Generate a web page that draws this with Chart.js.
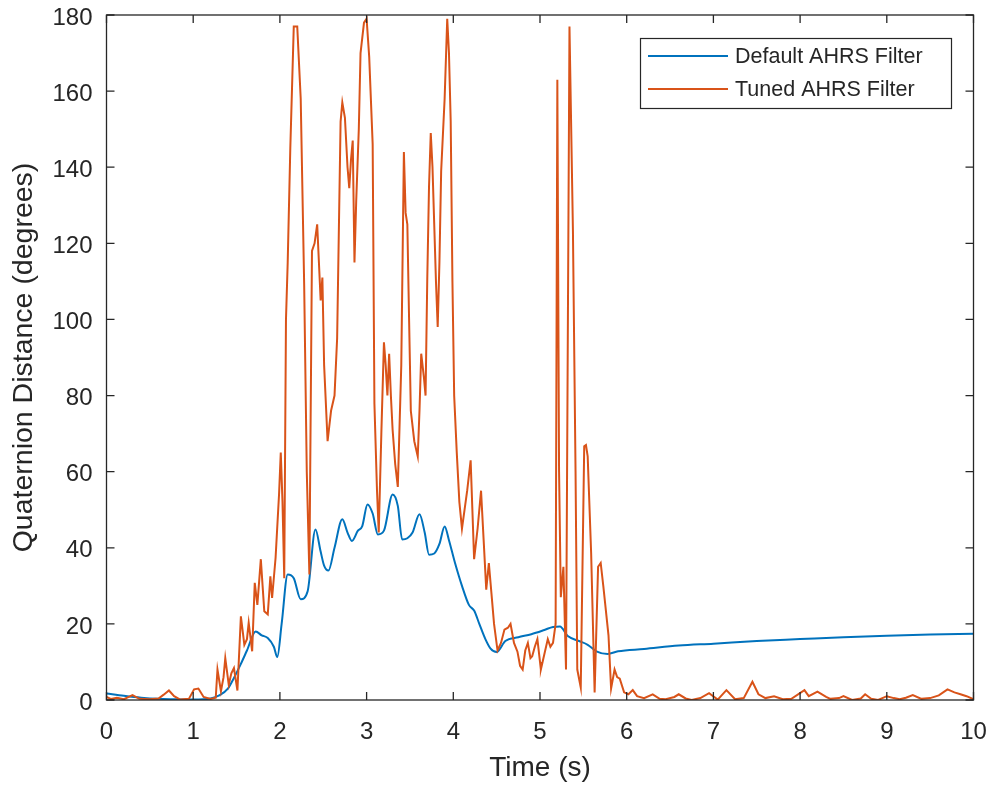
<!DOCTYPE html>
<html>
<head>
<meta charset="utf-8">
<script src="https://cdn.jsdelivr.net/npm/chart.js@4/dist/chart.umd.min.js"></script>
<style>
	html, body { margin: 0; padding: 0; background: #fff; }
	#wrap { width: 992px; height: 787px; position: relative; }
</style>
</head>
<body>
<div id="wrap"><canvas id="chart"></canvas></div>
<script>
// time (s) and quaternion distance (degrees)
const defaultTime = [0, 0.2, 0.4, 0.6, 0.8, 1.0, 1.2, 1.3, 1.4, 1.47,
	1.55, 1.62, 1.72, 1.79, 1.86, 1.93, 1.97, 2.02, 2.09, 2.16,
	2.24, 2.32, 2.41, 2.47, 2.51, 2.56, 2.63, 2.72, 2.78, 2.83,
	2.9, 2.95, 3.01, 3.07, 3.13, 3.2, 3.3, 3.36, 3.41, 3.47,
	3.53, 3.61, 3.67, 3.72, 3.78, 3.84, 3.9, 3.95, 4.02, 4.1,
	4.18, 4.24, 4.3, 4.37, 4.43, 4.5, 4.6, 4.75, 4.9, 5.05,
	5.15, 5.23, 5.32, 5.45, 5.55, 5.65, 5.78, 5.9, 6.2, 6.6,
	7.0, 7.5, 8.0, 8.5, 9.0, 9.5, 10];
const defaultDist = [1.7, 1.1, 0.6, 0.3, 0.2, 0.1, 0.4, 1.2, 3.0, 5.8,
	9.5, 13, 18, 17, 16.3, 14, 11.3, 20, 33, 32,
	26.5, 28.6, 44.8, 39, 35.3, 34, 40, 47.5, 44, 41.8,
	44.5, 45.7, 51.4, 49, 43.5, 44.5, 54, 51, 42.2, 42.5,
	44, 48.8, 44, 38.2, 38.5, 41, 45.6, 42, 36, 30,
	25, 23.5, 20, 16, 13.5, 12.6, 15.5, 16.5, 17.3, 18.4,
	19.2, 19.3, 16.8, 15.5, 14.5, 12.8, 12.1, 12.8, 13.4, 14.3,
	14.8, 15.5, 16, 16.5, 16.9, 17.2, 17.4];

const tunedTime = [0, 0.05, 0.12, 0.2, 0.3, 0.38, 0.5, 0.6, 0.66, 0.72,
	0.78, 0.85, 0.95, 1.01, 1.06, 1.12, 1.2, 1.26, 1.28, 1.32,
	1.35, 1.37, 1.41, 1.44, 1.47, 1.51, 1.55, 1.59, 1.62, 1.64,
	1.68, 1.71, 1.74, 1.78, 1.82, 1.86, 1.89, 1.91, 1.95, 1.99,
	2.01, 2.03, 2.05, 2.07, 2.09, 2.12, 2.16, 2.2, 2.24, 2.28,
	2.31, 2.34, 2.37, 2.4, 2.43, 2.47, 2.49, 2.51, 2.55, 2.57,
	2.59, 2.63, 2.66, 2.7, 2.72, 2.75, 2.78, 2.8, 2.82, 2.84,
	2.86, 2.88, 2.91, 2.93, 2.97, 3.0, 3.03, 3.07, 3.09, 3.12,
	3.14, 3.17, 3.2, 3.22, 3.24, 3.26, 3.28, 3.3, 3.33, 3.36,
	3.4, 3.43, 3.45, 3.47, 3.49, 3.51, 3.55, 3.59, 3.61, 3.63,
	3.66, 3.68, 3.7, 3.72, 3.74, 3.76, 3.78, 3.8, 3.82, 3.84,
	3.86, 3.9, 3.93, 3.95, 3.97, 3.99, 4.01, 4.04, 4.07, 4.1,
	4.13, 4.16, 4.2, 4.22, 4.24, 4.28, 4.32, 4.35, 4.38, 4.41,
	4.44, 4.47, 4.51, 4.55, 4.59, 4.63, 4.66, 4.7, 4.74, 4.77,
	4.8, 4.83, 4.86, 4.89, 4.91, 4.94, 4.97, 5.0, 5.01, 5.05,
	5.09, 5.12, 5.15, 5.18, 5.2, 5.22, 5.24, 5.27, 5.3, 5.34,
	5.38, 5.41, 5.43, 5.47, 5.51, 5.53, 5.55, 5.59, 5.63, 5.67,
	5.7, 5.73, 5.79, 5.82, 5.86, 5.89, 5.92, 5.97, 6.02, 6.07,
	6.12, 6.2, 6.3, 6.38, 6.45, 6.55, 6.6, 6.68, 6.75, 6.85,
	6.95, 7.05, 7.15, 7.25, 7.35, 7.45, 7.52, 7.6, 7.7, 7.8,
	7.9, 8.05, 8.1, 8.2, 8.3, 8.35, 8.45, 8.5, 8.6, 8.7,
	8.75, 8.82, 8.9, 9.0, 9.08, 9.15, 9.22, 9.3, 9.4, 9.5,
	9.6, 9.7, 9.78, 9.85, 9.92, 10];
const tunedDist = [0.8, 0.3, 0.6, 0.2, 1.3, 0.3, 0.2, 0.4, 1.4, 2.5,
	1, 0.1, 0.3, 2.8, 3, 0.8, 0.3, 0.6, 8, 2.3,
	6, 11, 4, 7, 8.4, 2.5, 22, 14.5, 16, 20.3,
	12.8, 30.8, 25, 37, 23.3, 22.5, 32.5, 26.8, 37.3, 54,
	65, 52, 32, 100, 115, 145, 177, 177, 158, 109,
	60, 33, 118, 120, 125, 105, 111, 88, 68, 72,
	76, 80, 95, 152, 157, 153, 140, 134.5, 142, 147,
	115, 131, 150, 170, 178, 179, 169, 146, 78, 55,
	44, 70, 94, 88, 80, 91, 80, 71, 62, 56,
	88, 144, 128, 125, 100, 76, 68, 64, 76, 91,
	85, 80, 111, 135, 149, 140, 125, 110, 98, 115,
	139, 158, 179, 170, 152, 110, 80, 65, 52, 45,
	50, 55, 63, 50, 37, 45, 55, 42, 29, 36,
	28, 20, 13, 15, 18.5, 19, 20, 15, 12.7, 9,
	8, 13, 15, 11, 11.5, 14, 16, 10, 8, 12,
	16, 14, 15, 20, 163, 60, 27, 35, 8, 177,
	123, 60, 8, 3.3, 66.7, 67, 64, 38.5, 2, 35,
	36, 30, 17, 3, 8, 6, 5.6, 2, 1.5, 2.6,
	1, 0.5, 1.5, 0.3, 0.2, 0.8, 1.5, 0.4, 0, 0.5,
	1.8, 0.1, 2.6, 0.2, 0.5, 4.8, 1.5, 0.5, 1, 0.2,
	0.3, 2.6, 1, 2.2, 0.8, 0.3, 0.5, 1, 0, 0.4,
	1.5, 0.3, 0, 1, 0.5, 0.2, 0.6, 1.3, 0.3, 0.5,
	1.2, 2.8, 2, 1.5, 1, 0.2];

const seriesLabels = ["Default AHRS Filter", "Tuned AHRS Filter"];
const seriesColors = ["rgb(0, 114, 189)", "rgb(217, 83, 25)"];

const axisColor = "#262626";
const fontFamily = "'Liberation Sans', Arial, Helvetica, sans-serif";

function toPoints(times, values) {
	return times.map((t, i) => ({ x: t, y: values[i] }));
}

// MATLAB-style box with inward ticks, plus the boxed legend
const matlabFrame = {
	id: "matlabFrame",
	afterDatasetsDraw(chart) {
		const { ctx, chartArea: area, scales } = chart;
		const tick = 8;
		ctx.save();
		ctx.strokeStyle = axisColor;
		ctx.lineWidth = 1.3;
		ctx.strokeRect(area.left, area.top, area.right - area.left, area.bottom - area.top);
		ctx.beginPath();
		for (const t of scales.x.ticks) {
			const px = scales.x.getPixelForValue(t.value);
			ctx.moveTo(px, area.bottom);
			ctx.lineTo(px, area.bottom - tick);
			ctx.moveTo(px, area.top);
			ctx.lineTo(px, area.top + tick);
		}
		for (const t of scales.y.ticks) {
			const py = scales.y.getPixelForValue(t.value);
			ctx.moveTo(area.left, py);
			ctx.lineTo(area.left + tick, py);
			ctx.moveTo(area.right, py);
			ctx.lineTo(area.right - tick, py);
		}
		ctx.stroke();

		// legend
		const box = { x: 640.5, y: 38.5, w: 311, h: 70 };
		ctx.fillStyle = "#fff";
		ctx.fillRect(box.x, box.y, box.w, box.h);
		ctx.lineWidth = 1.2;
		ctx.strokeRect(box.x, box.y, box.w, box.h);
		ctx.font = "21.5px " + fontFamily;
		ctx.textBaseline = "middle";
		ctx.textAlign = "left";
		chart.data.datasets.forEach((ds, i) => {
			const yy = 56 + i * 33;
			ctx.strokeStyle = ds.borderColor;
			ctx.lineWidth = 1.8;
			ctx.beginPath();
			ctx.moveTo(648, yy);
			ctx.lineTo(728, yy);
			ctx.stroke();
			ctx.fillStyle = axisColor;
			ctx.fillText(ds.label, 735, yy + 1);
		});
		ctx.restore();
	},
};

new Chart(document.getElementById("chart"), {
	type: "line",
	data: {
		datasets: [
			{
				label: seriesLabels[0],
				data: toPoints(defaultTime, defaultDist),
				borderColor: seriesColors[0],
				borderWidth: 2,
				pointRadius: 0,
				cubicInterpolationMode: "monotone",
				order: 1,
			},
			{
				label: seriesLabels[1],
				data: toPoints(tunedTime, tunedDist),
				borderColor: seriesColors[1],
				borderWidth: 2,
				pointRadius: 0,
				tension: 0,
				order: 0,
			},
		],
	},
	plugins: [matlabFrame],
	options: {
		responsive: true,
		maintainAspectRatio: false,
		animation: false,
		layout: { padding: { top: 15, right: 18.5, left: 0, bottom: 0 } },
		plugins: {
			legend: { display: false },
			tooltip: { enabled: false },
		},
		scales: {
			x: {
				type: "linear",
				min: 0,
				max: 10,
				grid: { display: false, drawTicks: false },
				border: { display: false },
				ticks: {
					stepSize: 1,
					autoSkip: false,
					maxRotation: 0,
					padding: 18,
					color: axisColor,
					font: { family: fontFamily, size: 24 },
				},
				title: {
					display: true,
					text: "Time (s)",
					color: axisColor,
					font: { family: fontFamily, size: 28 },
					padding: { top: 0, bottom: 2 },
				},
				afterFit(scale) {
					scale.height = 87;
					scale.paddingLeft = 0;
					scale.paddingRight = 0;
				},
			},
			y: {
				min: 0,
				max: 180,
				grid: { display: false, drawTicks: false },
				border: { display: false },
				ticks: {
					stepSize: 20,
					padding: 14,
					labelOffset: 3,
					color: axisColor,
					font: { family: fontFamily, size: 24 },
				},
				title: {
					display: true,
					text: "Quaternion Distance (degrees)",
					color: axisColor,
					font: { family: fontFamily, size: 28.5 },
					padding: { top: 7, bottom: 0 },
				},
				afterFit(scale) {
					scale.width = 106.5;
					scale.paddingTop = 0;
					scale.paddingBottom = 0;
				},
			},
		},
	},
});
</script>
</body>
</html>
